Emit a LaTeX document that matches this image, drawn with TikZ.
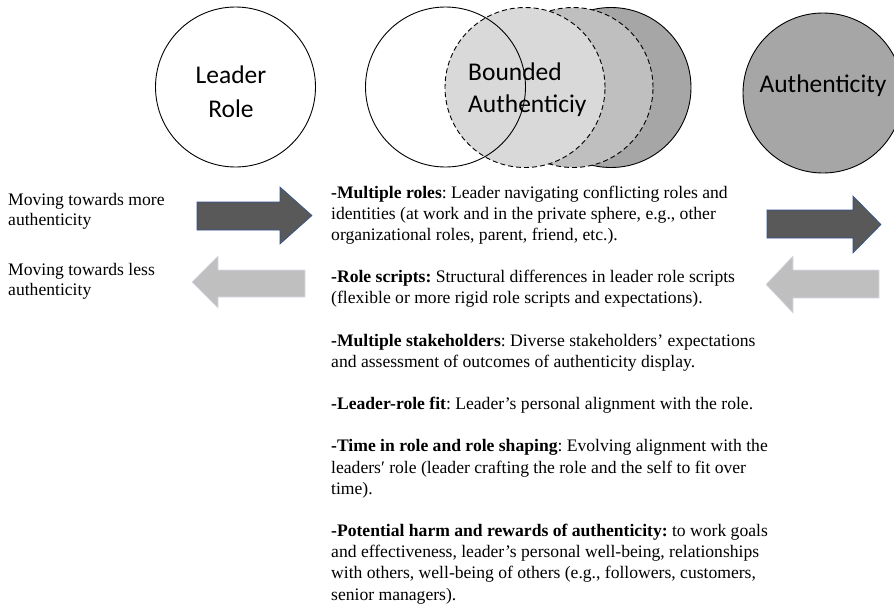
\documentclass[tikz,border=0pt]{standalone}
\usepackage{fontspec}
\setmainfont{Liberation Serif}
\newfontfamily\calib{Carlito}
\definecolor{lightg}{HTML}{D9D9D9}
\definecolor{midg}{HTML}{BFBFBF}
\definecolor{darkg}{HTML}{A6A6A6}
\definecolor{arrdark}{HTML}{595959}
\definecolor{arrdarkline}{HTML}{2F528F}
\definecolor{arrlightline}{HTML}{D6DCE8}
\frenchspacing
\begin{document}
\begin{tikzpicture}[x=1pt,y=-1pt,
  ring/.style={circle,minimum size=160pt,inner sep=0pt,line width=0.9pt},
  dashring/.style={ring,dash pattern=on 5pt off 3pt},
  clabel/.style={font=\calib\fontsize{25.5}{30}\selectfont,inner sep=0pt,anchor=base},
  darrow/.style={fill=arrdark,draw=arrdarkline,line width=0.6pt},
  larrow/.style={fill=midg,draw=arrlightline,line width=0.6pt},
  sidetext/.style={font=\fontsize{17.6}{20}\selectfont,inner sep=0pt,anchor=base west}]
\useasboundingbox (0,0) rectangle (894,606);
% circles
\node[ring,draw,fill=white] (lead) at (235.5,87) {};
\node[ring,draw,fill=darkg] (dark) at (611,87.5) {};
\node[dashring,draw,fill=midg] (mid) at (573,87.5) {};
\node[dashring,draw,fill=lightg] (light) at (525,87.5) {};
\node[ring,draw] (white) at (445.5,87) {};
\node[ring,draw,fill=darkg] (auth) at (823,93) {};
% circle labels
\node[clabel] (l1) at (231,83) {Leader};
\node[clabel] (l2) at (231,117) {Role};
\node[clabel,anchor=base west] (b1) at (468,80) {Bounded};
\node[clabel,anchor=base west] (b2) at (468,112) {Authenticiy};
\node[clabel] (a1) at (823,92) {Authenticity};
% left texts
\node[sidetext] (m1) at (8,205) {Moving towards more};
\node[sidetext] (m2) at (8,225) {authenticity};
\node[sidetext] (m3) at (8,275) {Moving towards less};
\node[sidetext] (m4) at (8,295) {authenticity};
% arrows
\draw[darrow] (197,202) -- (280,202) -- (280,187) -- (312,215.5) -- (280,244) -- (280,230) -- (197,230) -- cycle;
\draw[larrow] (305,270) -- (218,270) -- (218,256) -- (192,282) -- (218,308) -- (218,297) -- (305,297) -- cycle;
\draw[darrow] (767,210) -- (853,210) -- (853,196) -- (881,224.5) -- (853,253) -- (853,238) -- (767,238) -- cycle;
\draw[larrow] (879,270) -- (793,270) -- (793,256) -- (766,284.5) -- (793,313) -- (793,298) -- (879,298) -- cycle;
% body text
\node[inner sep=0pt,anchor=base west] (body) at (331,198) {\fontsize{17.6}{21.16}\selectfont
\begin{tabular}[t]{@{}l@{}}
\textbf{-Multiple roles}: Leader navigating conflicting roles and\\
identities (at work and in the private sphere, e.g., other\\
organizational roles, parent, friend, etc.).\\
\\
\textbf{-Role scripts:} Structural differences in leader role scripts\\
(flexible or more rigid role scripts and expectations).\\
\\
\textbf{-Multiple stakeholders}: Diverse stakeholders’ expectations\\
and assessment of outcomes of authenticity display.\\
\\
\textbf{-Leader-role fit}: Leader’s personal alignment with the role.\\
\\
\textbf{-Time in role and role shaping}: Evolving alignment with the\\
leaders′ role (leader crafting the role and the self to fit over\\
time).\\
\\
\textbf{-Potential harm and rewards of authenticity:} to work goals\\
and effectiveness, leader’s personal well-being, relationships\\
with others, well-being of others (e.g., followers, customers,\\
senior managers).
\end{tabular}};
\end{tikzpicture}
\end{document}
